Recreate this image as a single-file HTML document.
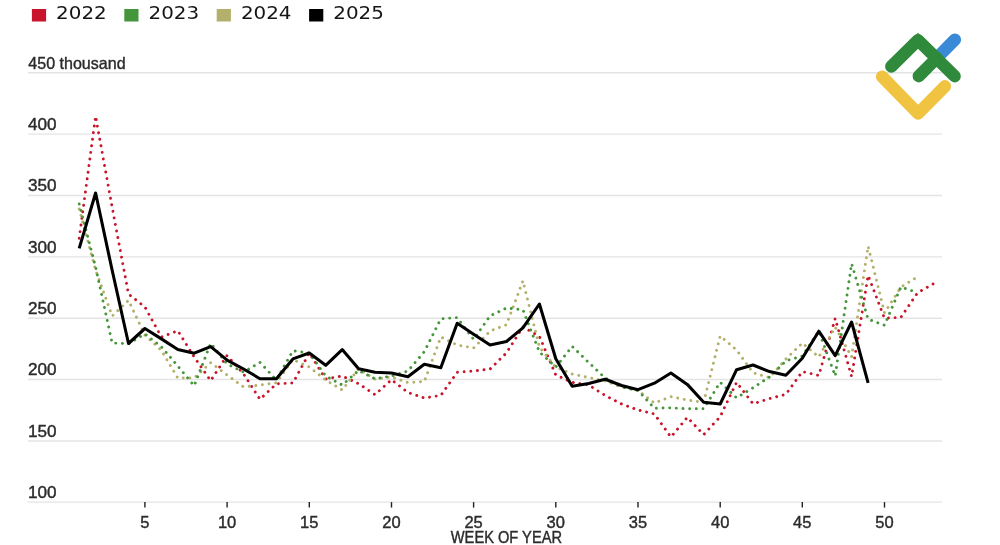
<!DOCTYPE html>
<html><head><meta charset="utf-8"><title>Chart</title>
<style>
html,body{margin:0;padding:0;background:#fff;}
body{width:1000px;height:545px;overflow:hidden;}
svg{display:block;}
text{font-family:"Liberation Sans",sans-serif;fill:#2b2b2b;}
.lg{font-family:"DejaVu Sans","Liberation Sans",sans-serif;fill:#151515;font-size:18.3px;}
.ax{font-size:16.5px;stroke:#2b2b2b;stroke-width:0.4px;}
</style></head><body>
<svg width="1000" height="545" viewBox="0 0 1000 545">
<rect width="1000" height="545" fill="#fff"/>

<line x1="28" x2="942" y1="72.8" y2="72.8" stroke="#e4e4e4" stroke-width="1.4"/>
<line x1="28" x2="942" y1="134.1" y2="134.1" stroke="#e4e4e4" stroke-width="1.4"/>
<line x1="28" x2="942" y1="195.5" y2="195.5" stroke="#e4e4e4" stroke-width="1.4"/>
<line x1="28" x2="942" y1="256.9" y2="256.9" stroke="#e4e4e4" stroke-width="1.4"/>
<line x1="28" x2="942" y1="318.2" y2="318.2" stroke="#e4e4e4" stroke-width="1.4"/>
<line x1="28" x2="942" y1="379.5" y2="379.5" stroke="#e4e4e4" stroke-width="1.4"/>
<line x1="28" x2="942" y1="441.0" y2="441.0" stroke="#e4e4e4" stroke-width="1.4"/>
<line x1="28" x2="942" y1="502.1" y2="502.1" stroke="#e4e4e4" stroke-width="1.4"/>
<text class="ax" x="28.3" y="68.7" textLength="97.3" lengthAdjust="spacingAndGlyphs">450 thousand</text>
<text class="ax" x="28.0" y="130.0" textLength="28.6" lengthAdjust="spacingAndGlyphs">400</text>
<text class="ax" x="28.0" y="191.4" textLength="28.6" lengthAdjust="spacingAndGlyphs">350</text>
<text class="ax" x="28.0" y="252.8" textLength="28.6" lengthAdjust="spacingAndGlyphs">300</text>
<text class="ax" x="28.0" y="314.1" textLength="28.6" lengthAdjust="spacingAndGlyphs">250</text>
<text class="ax" x="28.0" y="375.4" textLength="28.6" lengthAdjust="spacingAndGlyphs">200</text>
<text class="ax" x="28.0" y="436.9" textLength="28.6" lengthAdjust="spacingAndGlyphs">150</text>
<text class="ax" x="28.0" y="498.0" textLength="28.6" lengthAdjust="spacingAndGlyphs">100</text>
<line x1="144.9" x2="144.9" y1="502.1" y2="507.6" stroke="#222" stroke-width="1.4"/>
<text class="ax" x="144.9" y="527.9" text-anchor="middle">5</text>
<line x1="227.1" x2="227.1" y1="502.1" y2="507.6" stroke="#222" stroke-width="1.4"/>
<text class="ax" x="227.1" y="527.9" text-anchor="middle">10</text>
<line x1="309.3" x2="309.3" y1="502.1" y2="507.6" stroke="#222" stroke-width="1.4"/>
<text class="ax" x="309.3" y="527.9" text-anchor="middle">15</text>
<line x1="391.5" x2="391.5" y1="502.1" y2="507.6" stroke="#222" stroke-width="1.4"/>
<text class="ax" x="391.5" y="527.9" text-anchor="middle">20</text>
<line x1="473.6" x2="473.6" y1="502.1" y2="507.6" stroke="#222" stroke-width="1.4"/>
<text class="ax" x="473.6" y="527.9" text-anchor="middle">25</text>
<line x1="555.8" x2="555.8" y1="502.1" y2="507.6" stroke="#222" stroke-width="1.4"/>
<text class="ax" x="555.8" y="527.9" text-anchor="middle">30</text>
<line x1="638.0" x2="638.0" y1="502.1" y2="507.6" stroke="#222" stroke-width="1.4"/>
<text class="ax" x="638.0" y="527.9" text-anchor="middle">35</text>
<line x1="720.2" x2="720.2" y1="502.1" y2="507.6" stroke="#222" stroke-width="1.4"/>
<text class="ax" x="720.2" y="527.9" text-anchor="middle">40</text>
<line x1="802.3" x2="802.3" y1="502.1" y2="507.6" stroke="#222" stroke-width="1.4"/>
<text class="ax" x="802.3" y="527.9" text-anchor="middle">45</text>
<line x1="884.5" x2="884.5" y1="502.1" y2="507.6" stroke="#222" stroke-width="1.4"/>
<text class="ax" x="884.5" y="527.9" text-anchor="middle">50</text>
<text class="ax" x="450.8" y="542.9" textLength="111.2" lengthAdjust="spacingAndGlyphs">WEEK OF YEAR</text>
<path d="M79.2,238.2 L95.6,116.2 L112.1,207.0 L128.5,294.0 L144.9,307.0 L161.4,337.0 L177.8,330.7 L194.2,357.0 L210.7,380.7 L227.1,355.5 L243.6,374.0 L260.0,399.3 L276.4,383.8 L292.9,383.0 L309.3,353.0 L325.7,379.0 L342.2,376.0 L358.6,383.7 L375.0,394.7 L391.5,379.7 L407.9,392.5 L424.3,398.0 L440.8,395.4 L457.2,372.3 L473.6,371.0 L490.1,369.0 L506.5,352.8 L522.9,327.0 L539.4,336.3 L555.8,375.0 L572.2,382.3 L588.7,385.0 L605.1,395.4 L621.6,404.0 L638.0,410.0 L654.4,414.0 L670.9,437.0 L687.3,417.4 L703.7,434.6 L720.2,416.6 L736.6,382.3 L753.0,403.8 L769.5,398.6 L785.9,394.3 L802.3,371.6 L818.8,375.5 L835.2,318.5 L851.6,376.6 L868.1,275.5 L884.5,318.2 L900.9,317.3 L917.4,293.0 L933.8,283.5" fill="none" stroke="#c9152b" stroke-width="2.9" stroke-linecap="round" stroke-linejoin="round" stroke-dasharray="0.01 6.65"/>
<path d="M79.2,209.0 L95.6,270.0 L112.1,316.0 L128.5,300.4 L144.9,335.0 L161.4,350.5 L177.8,378.0 L194.2,378.0 L210.7,362.7 L227.1,375.0 L243.6,387.0 L260.0,385.0 L276.4,382.7 L292.9,359.6 L309.3,367.0 L325.7,380.0 L342.2,390.0 L358.6,369.0 L375.0,379.0 L391.5,377.0 L407.9,382.6 L424.3,381.5 L440.8,337.0 L457.2,345.0 L473.6,348.0 L490.1,331.0 L506.5,324.7 L522.9,280.8 L539.4,347.0 L555.8,367.2 L572.2,374.0 L588.7,377.5 L605.1,381.0 L621.6,387.0 L638.0,390.5 L654.4,403.0 L670.9,396.6 L687.3,400.0 L703.7,402.3 L720.2,336.0 L736.6,350.0 L753.0,372.8 L769.5,377.6 L785.9,359.0 L802.3,343.0 L818.8,357.0 L835.2,327.0 L851.6,357.0 L868.1,246.2 L884.5,312.8 L900.9,287.2 L917.4,277.0" fill="none" stroke="#b3b06b" stroke-width="2.9" stroke-linecap="round" stroke-linejoin="round" stroke-dasharray="0.01 6.65"/>
<path d="M79.2,204.0 L95.6,267.0 L112.1,343.0 L128.5,343.6 L144.9,334.0 L161.4,346.8 L177.8,366.0 L194.2,385.8 L210.7,343.3 L227.1,364.0 L243.6,372.1 L260.0,362.4 L276.4,380.0 L292.9,350.7 L309.3,353.0 L325.7,376.0 L342.2,385.0 L358.6,370.5 L375.0,378.8 L391.5,376.0 L407.9,371.0 L424.3,351.7 L440.8,318.8 L457.2,317.6 L473.6,339.4 L490.1,315.8 L506.5,308.0 L522.9,309.8 L539.4,352.0 L555.8,367.0 L572.2,346.3 L588.7,362.5 L605.1,378.0 L621.6,387.0 L638.0,390.4 L654.4,408.3 L670.9,407.8 L687.3,408.8 L703.7,408.8 L720.2,382.3 L736.6,397.9 L753.0,387.8 L769.5,377.0 L785.9,360.9 L802.3,356.0 L818.8,331.2 L835.2,376.0 L851.6,263.7 L868.1,319.2 L884.5,325.2 L900.9,287.0 L917.4,292.6" fill="none" stroke="#45953a" stroke-width="2.9" stroke-linecap="round" stroke-linejoin="round" stroke-dasharray="0.01 6.65"/>
<path d="M79.2,248.4 L95.6,193.0 L112.1,270.0 L128.5,343.5 L144.9,328.5 L161.4,338.9 L177.8,349.5 L194.2,353.2 L210.7,346.6 L227.1,360.1 L243.6,369.0 L260.0,378.7 L276.4,378.7 L292.9,358.9 L309.3,353.0 L325.7,365.3 L342.2,349.6 L358.6,368.7 L375.0,372.2 L391.5,373.0 L407.9,376.7 L424.3,364.3 L440.8,367.7 L457.2,323.2 L473.6,334.3 L490.1,345.0 L506.5,341.5 L522.9,327.8 L539.4,304.0 L555.8,358.7 L572.2,386.2 L588.7,383.6 L605.1,379.3 L621.6,385.5 L638.0,389.7 L654.4,383.2 L670.9,373.0 L687.3,384.4 L703.7,402.3 L720.2,404.0 L736.6,369.7 L753.0,365.0 L769.5,371.6 L785.9,375.2 L802.3,358.2 L818.8,331.2 L835.2,355.7 L851.6,322.0 L868.1,382.8" fill="none" stroke="#000" stroke-width="3.05" stroke-linejoin="round"/>
<rect x="31.9" y="9" width="14.2" height="12.5" fill="#c9152b"/>
<text class="lg" x="56.1" y="19.1" textLength="50.6" lengthAdjust="spacingAndGlyphs">2022</text>
<rect x="124.3" y="9" width="14.2" height="12.5" fill="#45953a"/>
<text class="lg" x="148.5" y="19.1" textLength="50.6" lengthAdjust="spacingAndGlyphs">2023</text>
<rect x="216.7" y="9" width="14.2" height="12.5" fill="#b3b06b"/>
<text class="lg" x="240.9" y="19.1" textLength="50.6" lengthAdjust="spacingAndGlyphs">2024</text>
<rect x="309.1" y="9" width="14.2" height="12.5" fill="#000"/>
<text class="lg" x="333.3" y="19.1" textLength="50.6" lengthAdjust="spacingAndGlyphs">2025</text>
<g fill="none" stroke-width="12.4" stroke-linecap="round" stroke-linejoin="round">
<path d="M936.8,58 L954.9,39.7" stroke="#3a8ad8"/>
<path d="M882.1,76.7 L918.1,113.5 L944.9,86.3" stroke="#f0c340"/>
<path d="M891.3,66.5 L918,40.2 L954.6,76.2" stroke="#2f8a3c"/>
<path d="M914,44.2 L918,40.2 L922,44.2" stroke="#2f8a3c" stroke-width="10.4" stroke-linecap="butt" stroke-linejoin="miter"/>
<path d="M918.8,76.2 L936.8,58" stroke="#2f8a3c"/>
</g>

</svg></body></html>
